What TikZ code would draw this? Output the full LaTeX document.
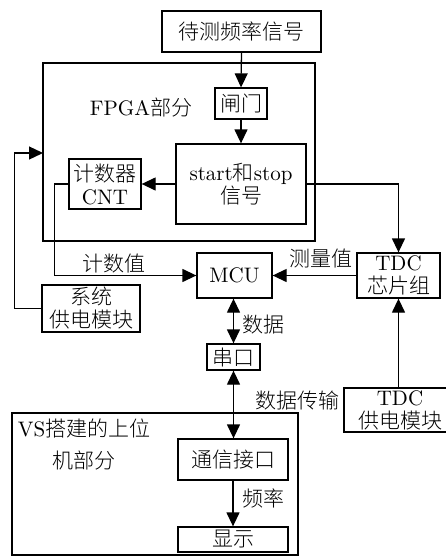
\documentclass[tikz,border=0pt]{standalone}
\usepackage{fontspec}
\setmainfont{lmroman10-regular.otf}
\newfontfamily\cjk{Noto Sans CJK SC Light}
\usetikzlibrary{arrows.meta}
\begin{document}
\begin{tikzpicture}[x=1pt,y=-1pt,line width=1.3pt,
  >={Triangle[length=14pt,width=13pt]},
  every node/.style={font=\fontsize{21}{23}\selectfont},
  box/.style={draw,rectangle,inner sep=0pt,align=center},
  lbl/.style={inner sep=0pt,align=center}]
\useasboundingbox (0,0) rectangle (446,557);
\clip (0,0) rectangle (446,557);

% outer frames
\node[box,minimum width=272pt,minimum height=178pt] (fpga) at (179,152) {};
\node[box,minimum width=286pt,minimum height=142pt] (vs) at (155,484) {};

% blocks
\node[box,minimum width=159pt,minimum height=41pt] (sig) at (241.5,31.5) {\cjk 待测频率信号};
\node[box,minimum width=52pt,minimum height=31pt] (gate) at (241,103.5) {\cjk 闸门};
\node[box,minimum width=130pt,minimum height=80pt] (ss) at (241,184) {start{\cjk 和}stop\\{\cjk 信号}};
\node[box,minimum width=72pt,minimum height=50pt] (cnt) at (105,184) {{\cjk 计数器}\\CNT};
\node[box,minimum width=75pt,minimum height=45pt] (mcu) at (234.5,275.5) {MCU};
\node[box,minimum width=83pt,minimum height=45pt] (tdc) at (398.5,275.5) {TDC\\{\cjk 芯片组}};
\node[box,minimum width=98pt,minimum height=47pt] (sys) at (91,308.5) {{\cjk 系统}\\{\cjk 供电模块}};
\node[box,minimum width=53pt,minimum height=26pt] (uart) at (233.5,357) {\cjk 串口};
\node[box,minimum width=112pt,minimum height=44pt] (tdcp) at (400,410) {TDC\\{\cjk 供电模块}};
\node[box,minimum width=110pt,minimum height=41pt] (comm) at (233,459.5) {\cjk 通信接口};
\node[box,minimum width=110pt,minimum height=25pt] (disp) at (233,539.5) {\cjk 显示};

% frame titles
\node[lbl] (fpgat) at (141,108) {FPGA{\cjk 部分}};
\node[lbl] (vst) at (84,444) {VS{\cjk 搭建的上位}\\[9pt]{\cjk 机部分}};

% connectors
\draw[->] (sig.south) -- (gate.north);
\draw[->] (gate.south) -- (ss.north);
\draw[->] (ss.west) -- (ss.west -| cnt.east);
\draw[->] (ss.east) -| (tdc.north);
\draw[->] (cnt.west) -- ++(-14,0) |- (mcu.west);
\draw[->] (tdc.west) -- (mcu.east);
\coordinate (fbin) at (43,153);
\draw[->] (sys.west) -- ++(-27,0) |- (fbin);
\draw[->] (tdc.south |- tdcp.north) -- (tdc.south);
\draw[<->] (uart.north) -- (uart.north |- mcu.south);
\draw[<->] (uart.south) -- (uart.south |- comm.north);
\draw[->] (comm.south) -- (comm.south |- disp.north);

% connector labels
\node[lbl] (lcnt) at (114,264) {\cjk 计数值};
\node[lbl] (lmeas) at (321,259) {\cjk 测量值};
\node[lbl] (ldata) at (263,325) {\cjk 数据};
\node[lbl] (ltx) at (297,401) {\cjk 数据传输};
\node[lbl] (lfreq) at (263.5,498) {\cjk 频率};
\end{tikzpicture}
\end{document}
